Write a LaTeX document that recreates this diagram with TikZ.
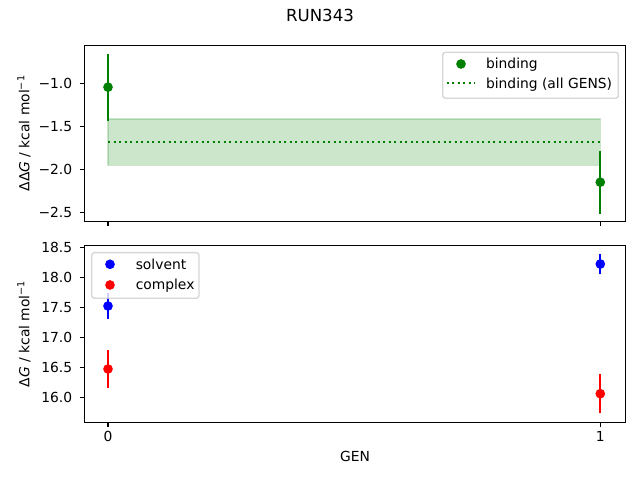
\documentclass[tikz,border=0pt]{standalone}
\usepackage{fontspec}
\setmainfont{DejaVu Sans}
\usepackage{tikz}
\usetikzlibrary{positioning}
\definecolor{vertrun}{RGB}{0,128,0}
\definecolor{bleurun}{RGB}{0,0,255}
\definecolor{rougerun}{RGB}{255,0,0}
\definecolor{grisrun}{RGB}{204,204,204}

\begin{document}
\begin{tikzpicture}[x=0.01in,y=0.01in]
% définition des paramètres
\tikzstyle cadrerun=[color=black,line width=0.8pt]
\tikzstyle tiquerun=[color=black,line width=0.8pt]
\tikzstyle texterun=[inner sep=0pt,font=\fontsize{10}{12}\selectfont]
\tikzstyle bandeverte=[fill=vertrun,draw=vertrun,fill opacity=0.2,draw opacity=0.2,line width=1pt]
\tikzstyle pointillevert=[color=vertrun,line width=1.5pt,dash pattern=on 1.5pt off 2.475pt]
\tikzstyle barreverte=[color=vertrun,line width=1.5pt]
\tikzstyle barrebleue=[color=bleurun,line width=1.5pt]
\tikzstyle barrerouge=[color=rougerun,line width=1.5pt]
\tikzstyle pointvert=[circle,inner sep=0pt,minimum size=7pt,fill=vertrun]
\tikzstyle pointbleu=[circle,inner sep=0pt,minimum size=7pt,fill=bleurun]
\tikzstyle pointrouge=[circle,inner sep=0pt,minimum size=7pt,fill=rougerun]
\tikzstyle legenderun=[draw=grisrun,fill=white,fill opacity=0.8,draw opacity=0.8,line width=1pt,rounded corners=2pt]
\newcommand{\axgauche}{84.5}  % bord gauche des deux graphes
\newcommand{\axdroite}{625.5} % bord droit
\newcommand{\hbas}{258.5}     % graphe du haut
\newcommand{\hhaut}{434.5}
\newcommand{\bbas}{57.5}      % graphe du bas
\newcommand{\bhaut}{234.5}
\newcommand{\genzero}{108}    % abscisse de GEN 0
\useasboundingbox (0,0) rectangle (640,480);
% le titre
\node[inner sep=0pt,anchor=base,font=\fontsize{12}{14}\selectfont] (titre) at (320,458.3) {RUN343};
% graphe du haut : binding
\begin{scope}[shift={(\genzero,482.7)},xscale=492.3,yscale=86]
  \filldraw[bandeverte] (0,-1.955) rectangle (1,-1.415);
  \draw[pointillevert] (0,-1.685) -- (1,-1.685);
  \foreach \g/\v/\e [count=\i] in {0/-1.045/0.39,1/-2.15/0.365} {
    \draw[barreverte] (\g,{\v-\e}) -- (\g,{\v+\e});
    \node[pointvert] (liaison\i) at (\g,\v) {};
  }
\end{scope}
% graphe du bas : solvent et complex
\begin{scope}[shift={(\genzero,-880.26)},xscale=492.3,yscale=60.16]
  \foreach \g/\v/\e [count=\i] in {0/17.524/0.21,1/18.222/0.168} {
    \draw[barrebleue] (\g,{\v-\e}) -- (\g,{\v+\e});
    \node[pointbleu] (solvant\i) at (\g,\v) {};
  }
  \foreach \g/\v/\e [count=\i] in {0/16.477/0.316,1/16.066/0.32} {
    \draw[barrerouge] (\g,{\v-\e}) -- (\g,{\v+\e});
    \node[pointrouge] (complexe\i) at (\g,\v) {};
  }
\end{scope}
% les cadres
\draw[cadrerun] (\axgauche,\hbas) rectangle (\axdroite,\hhaut);
\draw[cadrerun] (\axgauche,\bbas) rectangle (\axdroite,\bhaut);
% les graduations
\foreach \v/\t [count=\i] in {-2.5/−2.5,-2.0/−2.0,-1.5/−1.5,-1.0/−1.0}
  \draw[tiquerun] (\axgauche,{482.7+86*\v}) -- ++(-5,0)
    node[texterun,anchor=base east] (gradh\i) at (72.7,{482.7+86*\v-5}) {\t};
\foreach \v [count=\i] in {16.0,16.5,17.0,17.5,18.0,18.5}
  \draw[tiquerun] (\axgauche,{-880.26+60.16*\v}) -- ++(-5,0)
    node[texterun,anchor=base east] (gradb\i) at (72.7,{-880.26+60.16*\v-5}) {\v};
\foreach \g/\x in {0/108,1/600.3} {
  \draw[tiquerun] (\x,\hbas) -- ++(0,-5);
  \draw[tiquerun] (\x,\bbas) -- ++(0,-5);
  \node[texterun,anchor=base] (gen\g) at (\x,38) {\g};
}
% les titres des axes
\node[texterun,anchor=base] (axegen) at (355,18.4) {GEN};
\node[texterun,anchor=base,rotate=90] (axeddg) at (29.5,346.8) {ΔΔ\textit{G} / kcal mol\textsuperscript{−1}};
\node[texterun,anchor=base,rotate=90] (axedg) at (29.5,146.3) {Δ\textit{G} / kcal mol\textsuperscript{−1}};
% les légendes
\draw[legenderun] (442.7,381.7) rectangle (618.3,427.7);
\node[pointvert] (legliaison) at (461,416) {};
\node[texterun,anchor=base west] (txtliaison) at (485.8,411.7) {binding};
\coordinate (legdeb) at (446.7,396.7);
\coordinate (legfin) at (475.3,396.7);
\draw[pointillevert] (legdeb) -- (legfin);
\node[texterun,anchor=base west] (txttous) at (485.8,391.7) {binding (all GENS)};
\draw[legenderun] (91.7,181.7) rectangle (199,227.3);
\node[pointbleu] (legsolvant) at (110,215.7) {};
\node[texterun,anchor=base west] (txtsolvant) at (135.5,210.7) {solvent};
\node[pointrouge] (legcomplexe) at (110,195) {};
\node[texterun,anchor=base west] (txtcomplexe) at (135.5,190) {complex};
\end{tikzpicture}
\end{document}
